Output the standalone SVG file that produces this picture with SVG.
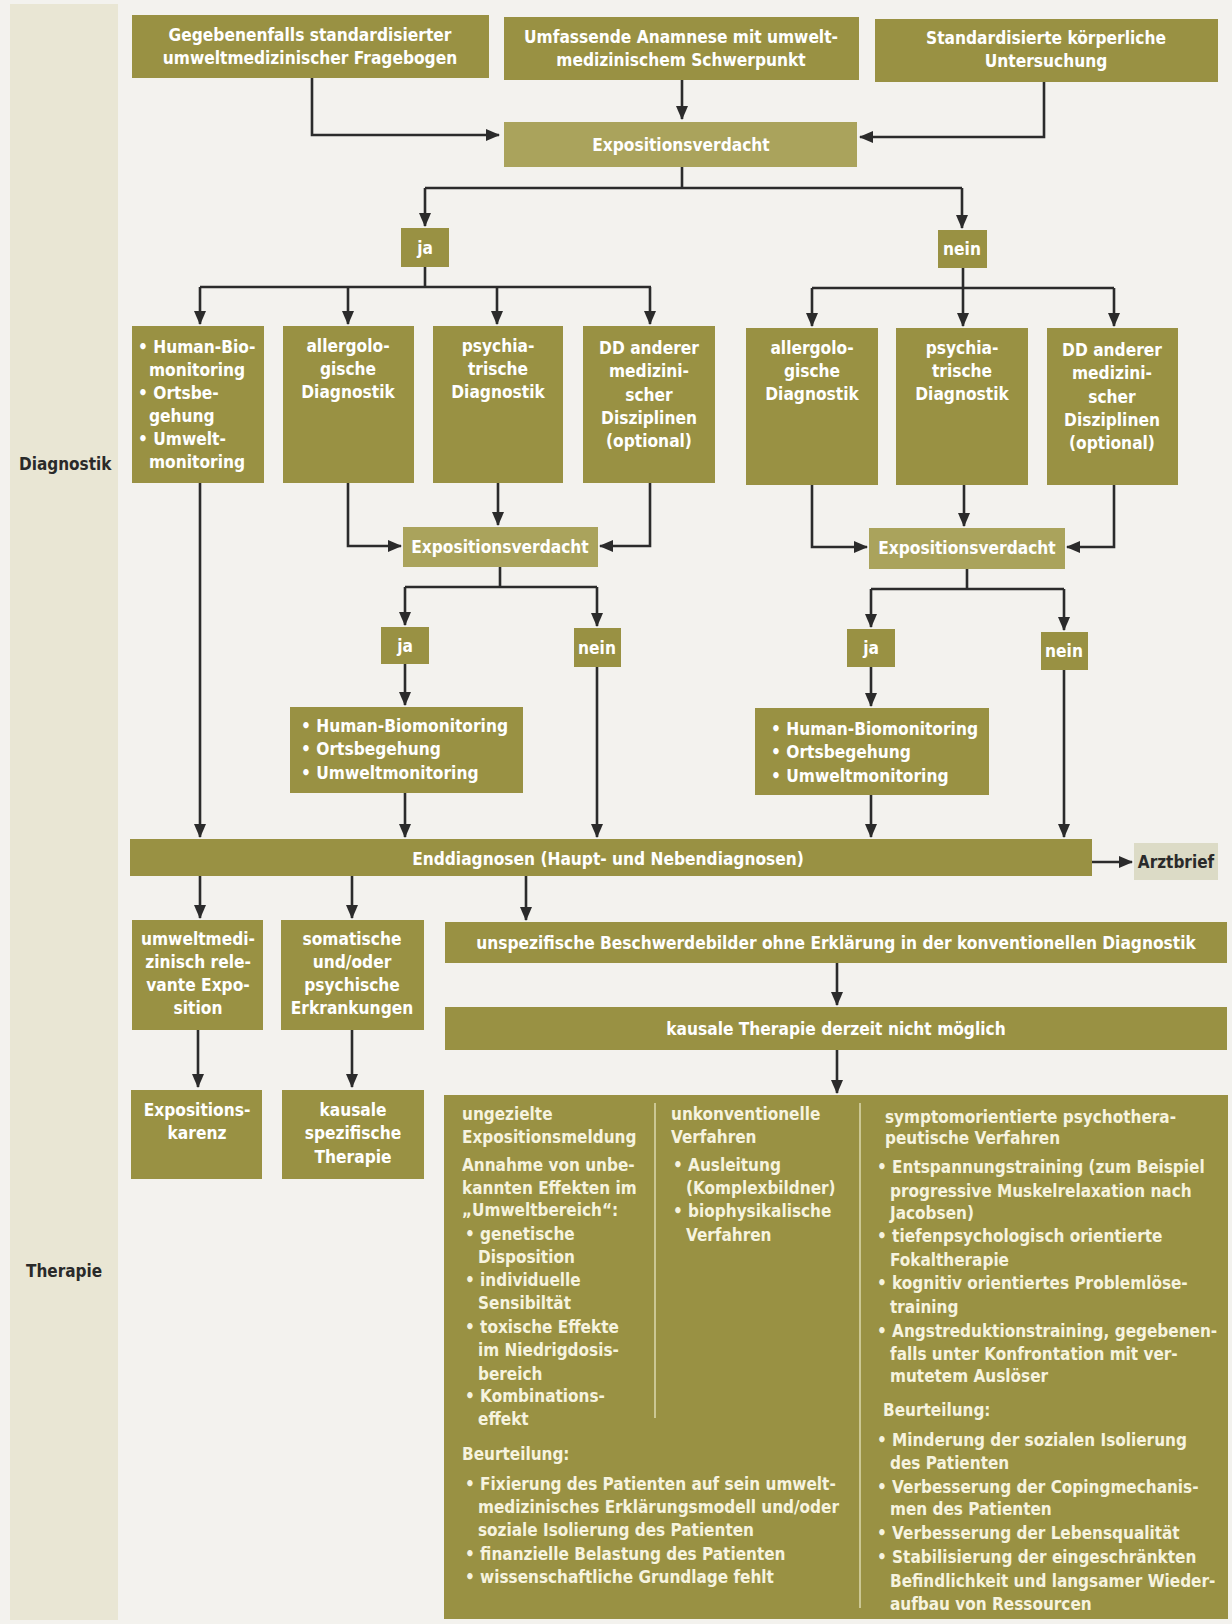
<svg xmlns="http://www.w3.org/2000/svg" width="1232" height="1624" viewBox="0 0 1232 1624">
<defs>
<marker id="ah" markerUnits="userSpaceOnUse" markerWidth="14" markerHeight="12" refX="13" refY="6" orient="auto">
<path d="M0,0 L14,6 L0,12 z" fill="#2b2b2b"/>
</marker>
<style>
.bx{fill:#999143}
.ex{fill:#aaa35c}
.ab{fill:#dcdbc6}
.t{font-family:"DejaVu Sans Condensed","Liberation Sans",sans-serif;font-weight:bold;font-size:17.2px;fill:#ffffff}
.s{font-family:"DejaVu Sans Condensed","Liberation Sans",sans-serif;font-weight:bold;font-size:17px;fill:#f6f3df}
.c{text-anchor:middle}
.d{font-family:"DejaVu Sans Condensed","Liberation Sans",sans-serif;font-weight:bold;font-size:17px;fill:#2a2a2a}
.ln{fill:none;stroke:#2b2b2b;stroke-width:2.6}
.ar{fill:none;stroke:#2b2b2b;stroke-width:2.6;marker-end:url(#ah)}
.dv{stroke:#d9d5a9;stroke-width:1.6}
</style>
</defs>
<rect x="0" y="0" width="1232" height="1624" fill="#f3f2ee"/>
<rect x="10" y="4" width="108" height="1616" fill="#e9e6d4"/>

<g id="connectors">
<path class="ar" d="M312,78 V135 H499"/>
<path class="ar" d="M682,80 V119"/>
<path class="ar" d="M1044,82 V137 H860"/>
<path class="ln" d="M682,167 V188 M425,188 H962"/>
<path class="ar" d="M425,188 V226"/>
<path class="ar" d="M962,188 V228"/>
<path class="ln" d="M425,267 V287 M200,287 H651"/>
<path class="ar" d="M200,287 V324"/>
<path class="ar" d="M348,287 V324"/>
<path class="ar" d="M497,287 V324"/>
<path class="ar" d="M650,287 V324"/>
<path class="ln" d="M963,268 V288 M812,288 H1114"/>
<path class="ar" d="M812,288 V326"/>
<path class="ar" d="M963,288 V326"/>
<path class="ar" d="M1114,288 V326"/>
<path class="ar" d="M200,483 V837"/>
<path class="ar" d="M348,483 V546 H401"/>
<path class="ar" d="M498,483 V525"/>
<path class="ar" d="M650,483 V546 H600"/>
<path class="ar" d="M812,485 V547 H867"/>
<path class="ar" d="M964,485 V526"/>
<path class="ar" d="M1114,485 V547 H1067"/>
<path class="ln" d="M500,567 V587 M405,587 H597"/>
<path class="ar" d="M405,587 V625"/>
<path class="ar" d="M597,587 V626"/>
<path class="ln" d="M967,569 V589 M871,589 H1064"/>
<path class="ar" d="M871,589 V627"/>
<path class="ar" d="M1064,589 V630"/>
<path class="ar" d="M405,664 V705"/>
<path class="ar" d="M871,667 V706"/>
<path class="ar" d="M405,793 V837"/>
<path class="ar" d="M597,667 V837"/>
<path class="ar" d="M871,795 V837"/>
<path class="ar" d="M1064,670 V837"/>
<path class="ar" d="M1092,862 H1132"/>
<path class="ar" d="M200,876 V918"/>
<path class="ar" d="M352,876 V918"/>
<path class="ar" d="M526,876 V920"/>
<path class="ar" d="M837,963 V1005"/>
<path class="ar" d="M837,1050 V1093"/>
<path class="ar" d="M198,1030 V1087"/>
<path class="ar" d="M352,1030 V1087"/>
</g>

<g id="fragebogen">
<rect class="bx" x="132" y="15" width="357" height="63"/>
<text class="t c" x="310" y="41">Gegebenenfalls standardisierter</text>
<text class="t c" x="310" y="64">umweltmedizinischer Fragebogen</text>
</g>
<g id="anamnese">
<rect class="bx" x="504" y="17" width="355" height="63"/>
<text class="t c" x="681" y="43">Umfassende Anamnese mit umwelt-</text>
<text class="t c" x="681" y="66">medizinischem Schwerpunkt</text>
</g>
<g id="untersuchung">
<rect class="bx" x="875" y="19" width="343" height="63"/>
<text class="t c" x="1046" y="44">Standardisierte körperliche</text>
<text class="t c" x="1046" y="67">Untersuchung</text>
</g>
<g id="exp1">
<rect class="ex" x="504" y="122" width="353" height="45"/>
<text class="t c" x="681" y="151">Expositionsverdacht</text>
</g>
<g id="ja1">
<rect class="bx" x="401" y="228" width="48" height="39"/>
<text class="t c" x="425" y="254">ja</text>
</g>
<g id="nein1">
<rect class="bx" x="938" y="230" width="49" height="38"/>
<text class="t c" x="962" y="255">nein</text>
</g>

<g id="diag1">
<rect class="bx" x="132" y="326" width="132" height="157"/>
<text class="t" x="138" y="353">• Human-Bio-</text>
<text class="t" x="149" y="376">monitoring</text>
<text class="t" x="138" y="399">• Ortsbe-</text>
<text class="t" x="149" y="422">gehung</text>
<text class="t" x="138" y="445">• Umwelt-</text>
<text class="t" x="149" y="468">monitoring</text>
</g>
<g id="diag2">
<rect class="bx" x="283" y="326" width="131" height="157"/>
<text class="t c" x="348" y="352">allergolo-</text>
<text class="t c" x="348" y="375">gische</text>
<text class="t c" x="348" y="398">Diagnostik</text>
</g>
<g id="diag3">
<rect class="bx" x="433" y="326" width="130" height="157"/>
<text class="t c" x="498" y="352">psychia-</text>
<text class="t c" x="498" y="375">trische</text>
<text class="t c" x="498" y="398">Diagnostik</text>
</g>
<g id="diag4">
<rect class="bx" x="583" y="326" width="132" height="157"/>
<text class="t c" x="649" y="354">DD anderer</text>
<text class="t c" x="649" y="377">medizini-</text>
<text class="t c" x="649" y="401">scher</text>
<text class="t c" x="649" y="424">Disziplinen</text>
<text class="t c" x="649" y="447">(optional)</text>
</g>
<g id="diag5">
<rect class="bx" x="746" y="328" width="132" height="157"/>
<text class="t c" x="812" y="354">allergolo-</text>
<text class="t c" x="812" y="377">gische</text>
<text class="t c" x="812" y="400">Diagnostik</text>
</g>
<g id="diag6">
<rect class="bx" x="896" y="328" width="132" height="157"/>
<text class="t c" x="962" y="354">psychia-</text>
<text class="t c" x="962" y="377">trische</text>
<text class="t c" x="962" y="400">Diagnostik</text>
</g>
<g id="diag7">
<rect class="bx" x="1047" y="328" width="131" height="157"/>
<text class="t c" x="1112" y="356">DD anderer</text>
<text class="t c" x="1112" y="379">medizini-</text>
<text class="t c" x="1112" y="403">scher</text>
<text class="t c" x="1112" y="426">Disziplinen</text>
<text class="t c" x="1112" y="449">(optional)</text>
</g>

<g id="exp2">
<rect class="ex" x="403" y="527" width="195" height="40"/>
<text class="t c" x="500" y="553">Expositionsverdacht</text>
</g>
<g id="exp3">
<rect class="ex" x="869" y="528" width="196" height="41"/>
<text class="t c" x="967" y="554">Expositionsverdacht</text>
</g>
<g id="ja2">
<rect class="bx" x="381" y="627" width="48" height="37"/>
<text class="t c" x="405" y="652">ja</text>
</g>
<g id="nein2">
<rect class="bx" x="574" y="628" width="47" height="39"/>
<text class="t c" x="597" y="654">nein</text>
</g>
<g id="ja3">
<rect class="bx" x="847" y="629" width="48" height="38"/>
<text class="t c" x="871" y="654">ja</text>
</g>
<g id="nein3">
<rect class="bx" x="1041" y="632" width="47" height="38"/>
<text class="t c" x="1064" y="657">nein</text>
</g>
<g id="hbm2">
<rect class="bx" x="290" y="707" width="233" height="86"/>
<text class="t" x="301" y="732">• Human-Biomonitoring</text>
<text class="t" x="301" y="755">• Ortsbegehung</text>
<text class="t" x="301" y="779">• Umweltmonitoring</text>
</g>
<g id="hbm3">
<rect class="bx" x="755" y="708" width="234" height="87"/>
<text class="t" x="771" y="735">• Human-Biomonitoring</text>
<text class="t" x="771" y="758">• Ortsbegehung</text>
<text class="t" x="771" y="782">• Umweltmonitoring</text>
</g>

<g id="enddiagnosen">
<rect class="bx" x="130" y="839" width="962" height="37"/>
<text class="t c" x="608" y="865">Enddiagnosen (Haupt- und Nebendiagnosen)</text>
</g>
<g id="arztbrief">
<rect class="ab" x="1134" y="843" width="84" height="37"/>
<text class="d c" x="1176" y="868">Arztbrief</text>
</g>
<g id="exposition">
<rect class="bx" x="132" y="920" width="131" height="110"/>
<text class="t c" x="198" y="945">umweltmedi-</text>
<text class="t c" x="198" y="968">zinisch rele-</text>
<text class="t c" x="198" y="991">vante Expo-</text>
<text class="t c" x="198" y="1014">sition</text>
</g>
<g id="somatisch">
<rect class="bx" x="281" y="920" width="143" height="110"/>
<text class="t c" x="352" y="945">somatische</text>
<text class="t c" x="352" y="968">und/oder</text>
<text class="t c" x="352" y="991">psychische</text>
<text class="t c" x="352" y="1014">Erkrankungen</text>
</g>
<g id="unspezifisch">
<rect class="bx" x="445" y="922" width="782" height="41"/>
<text class="t c" x="836" y="949">unspezifische Beschwerdebilder ohne Erklärung in der konventionellen Diagnostik</text>
</g>
<g id="kausal-nicht">
<rect class="bx" x="445" y="1007" width="782" height="43"/>
<text class="t c" x="836" y="1035">kausale Therapie derzeit nicht möglich</text>
</g>
<g id="karenz">
<rect class="bx" x="131" y="1090" width="131" height="89"/>
<text class="t c" x="197" y="1116">Expositions-</text>
<text class="t c" x="197" y="1139">karenz</text>
</g>
<g id="kausal-spez">
<rect class="bx" x="282" y="1090" width="142" height="89"/>
<text class="t c" x="353" y="1116">kausale</text>
<text class="t c" x="353" y="1139">spezifische</text>
<text class="t c" x="353" y="1163">Therapie</text>
</g>

<g id="therapien">
<rect class="bx" x="444" y="1095" width="784" height="524"/>
<line class="dv" x1="655" y1="1103" x2="655" y2="1418"/>
<line class="dv" x1="860" y1="1103" x2="860" y2="1608"/>
<text class="s" x="462" y="1120">ungezielte</text>
<text class="s" x="462" y="1143">Expositionsmeldung</text>
<text class="s" x="462" y="1171">Annahme von unbe-</text>
<text class="s" x="462" y="1194">kannten Effekten im</text>
<text class="s" x="462" y="1216">„Umweltbereich“:</text>
<text class="s" x="465" y="1240">• genetische</text>
<text class="s" x="478" y="1263">Disposition</text>
<text class="s" x="465" y="1286">• individuelle</text>
<text class="s" x="478" y="1309">Sensibiltät</text>
<text class="s" x="465" y="1333">• toxische Effekte</text>
<text class="s" x="478" y="1356">im Niedrigdosis-</text>
<text class="s" x="478" y="1380">bereich</text>
<text class="s" x="465" y="1402">• Kombinations-</text>
<text class="s" x="478" y="1425">effekt</text>
<text class="s" x="462" y="1460">Beurteilung:</text>
<text class="s" x="465" y="1490">• Fixierung des Patienten auf sein umwelt-</text>
<text class="s" x="478" y="1513">medizinisches Erklärungsmodell und/oder</text>
<text class="s" x="478" y="1536">soziale Isolierung des Patienten</text>
<text class="s" x="465" y="1560">• finanzielle Belastung des Patienten</text>
<text class="s" x="465" y="1583">• wissenschaftliche Grundlage fehlt</text>

<text class="s" x="671" y="1120">unkonventionelle</text>
<text class="s" x="671" y="1143">Verfahren</text>
<text class="s" x="673" y="1171">• Ausleitung</text>
<text class="s" x="686" y="1194">(Komplexbildner)</text>
<text class="s" x="673" y="1217">• biophysikalische</text>
<text class="s" x="686" y="1241">Verfahren</text>

<text class="s" x="885" y="1123">symptomorientierte psychothera-</text>
<text class="s" x="885" y="1144">peutische Verfahren</text>
<text class="s" x="877" y="1173">• Entspannungstraining (zum Beispiel</text>
<text class="s" x="890" y="1197">progressive Muskelrelaxation nach</text>
<text class="s" x="890" y="1219">Jacobsen)</text>
<text class="s" x="877" y="1242">• tiefenpsychologisch orientierte</text>
<text class="s" x="890" y="1266">Fokaltherapie</text>
<text class="s" x="877" y="1289">• kognitiv orientiertes Problemlöse-</text>
<text class="s" x="890" y="1313">training</text>
<text class="s" x="877" y="1337">• Angstreduktionstraining, gegebenen-</text>
<text class="s" x="890" y="1360">falls unter Konfrontation mit ver-</text>
<text class="s" x="890" y="1382">mutetem Auslöser</text>
<text class="s" x="883" y="1416">Beurteilung:</text>
<text class="s" x="877" y="1446">• Minderung der sozialen Isolierung</text>
<text class="s" x="890" y="1469">des Patienten</text>
<text class="s" x="877" y="1493">• Verbesserung der Copingmechanis-</text>
<text class="s" x="890" y="1515">men des Patienten</text>
<text class="s" x="877" y="1539">• Verbesserung der Lebensqualität</text>
<text class="s" x="877" y="1563">• Stabilisierung der eingeschränkten</text>
<text class="s" x="890" y="1587">Befindlichkeit und langsamer Wieder-</text>
<text class="s" x="890" y="1610">aufbau von Ressourcen</text>
</g>

<g id="labels">
<text class="d" x="19" y="470">Diagnostik</text>
<text class="d" x="26" y="1277">Therapie</text>
</g>
</svg>
